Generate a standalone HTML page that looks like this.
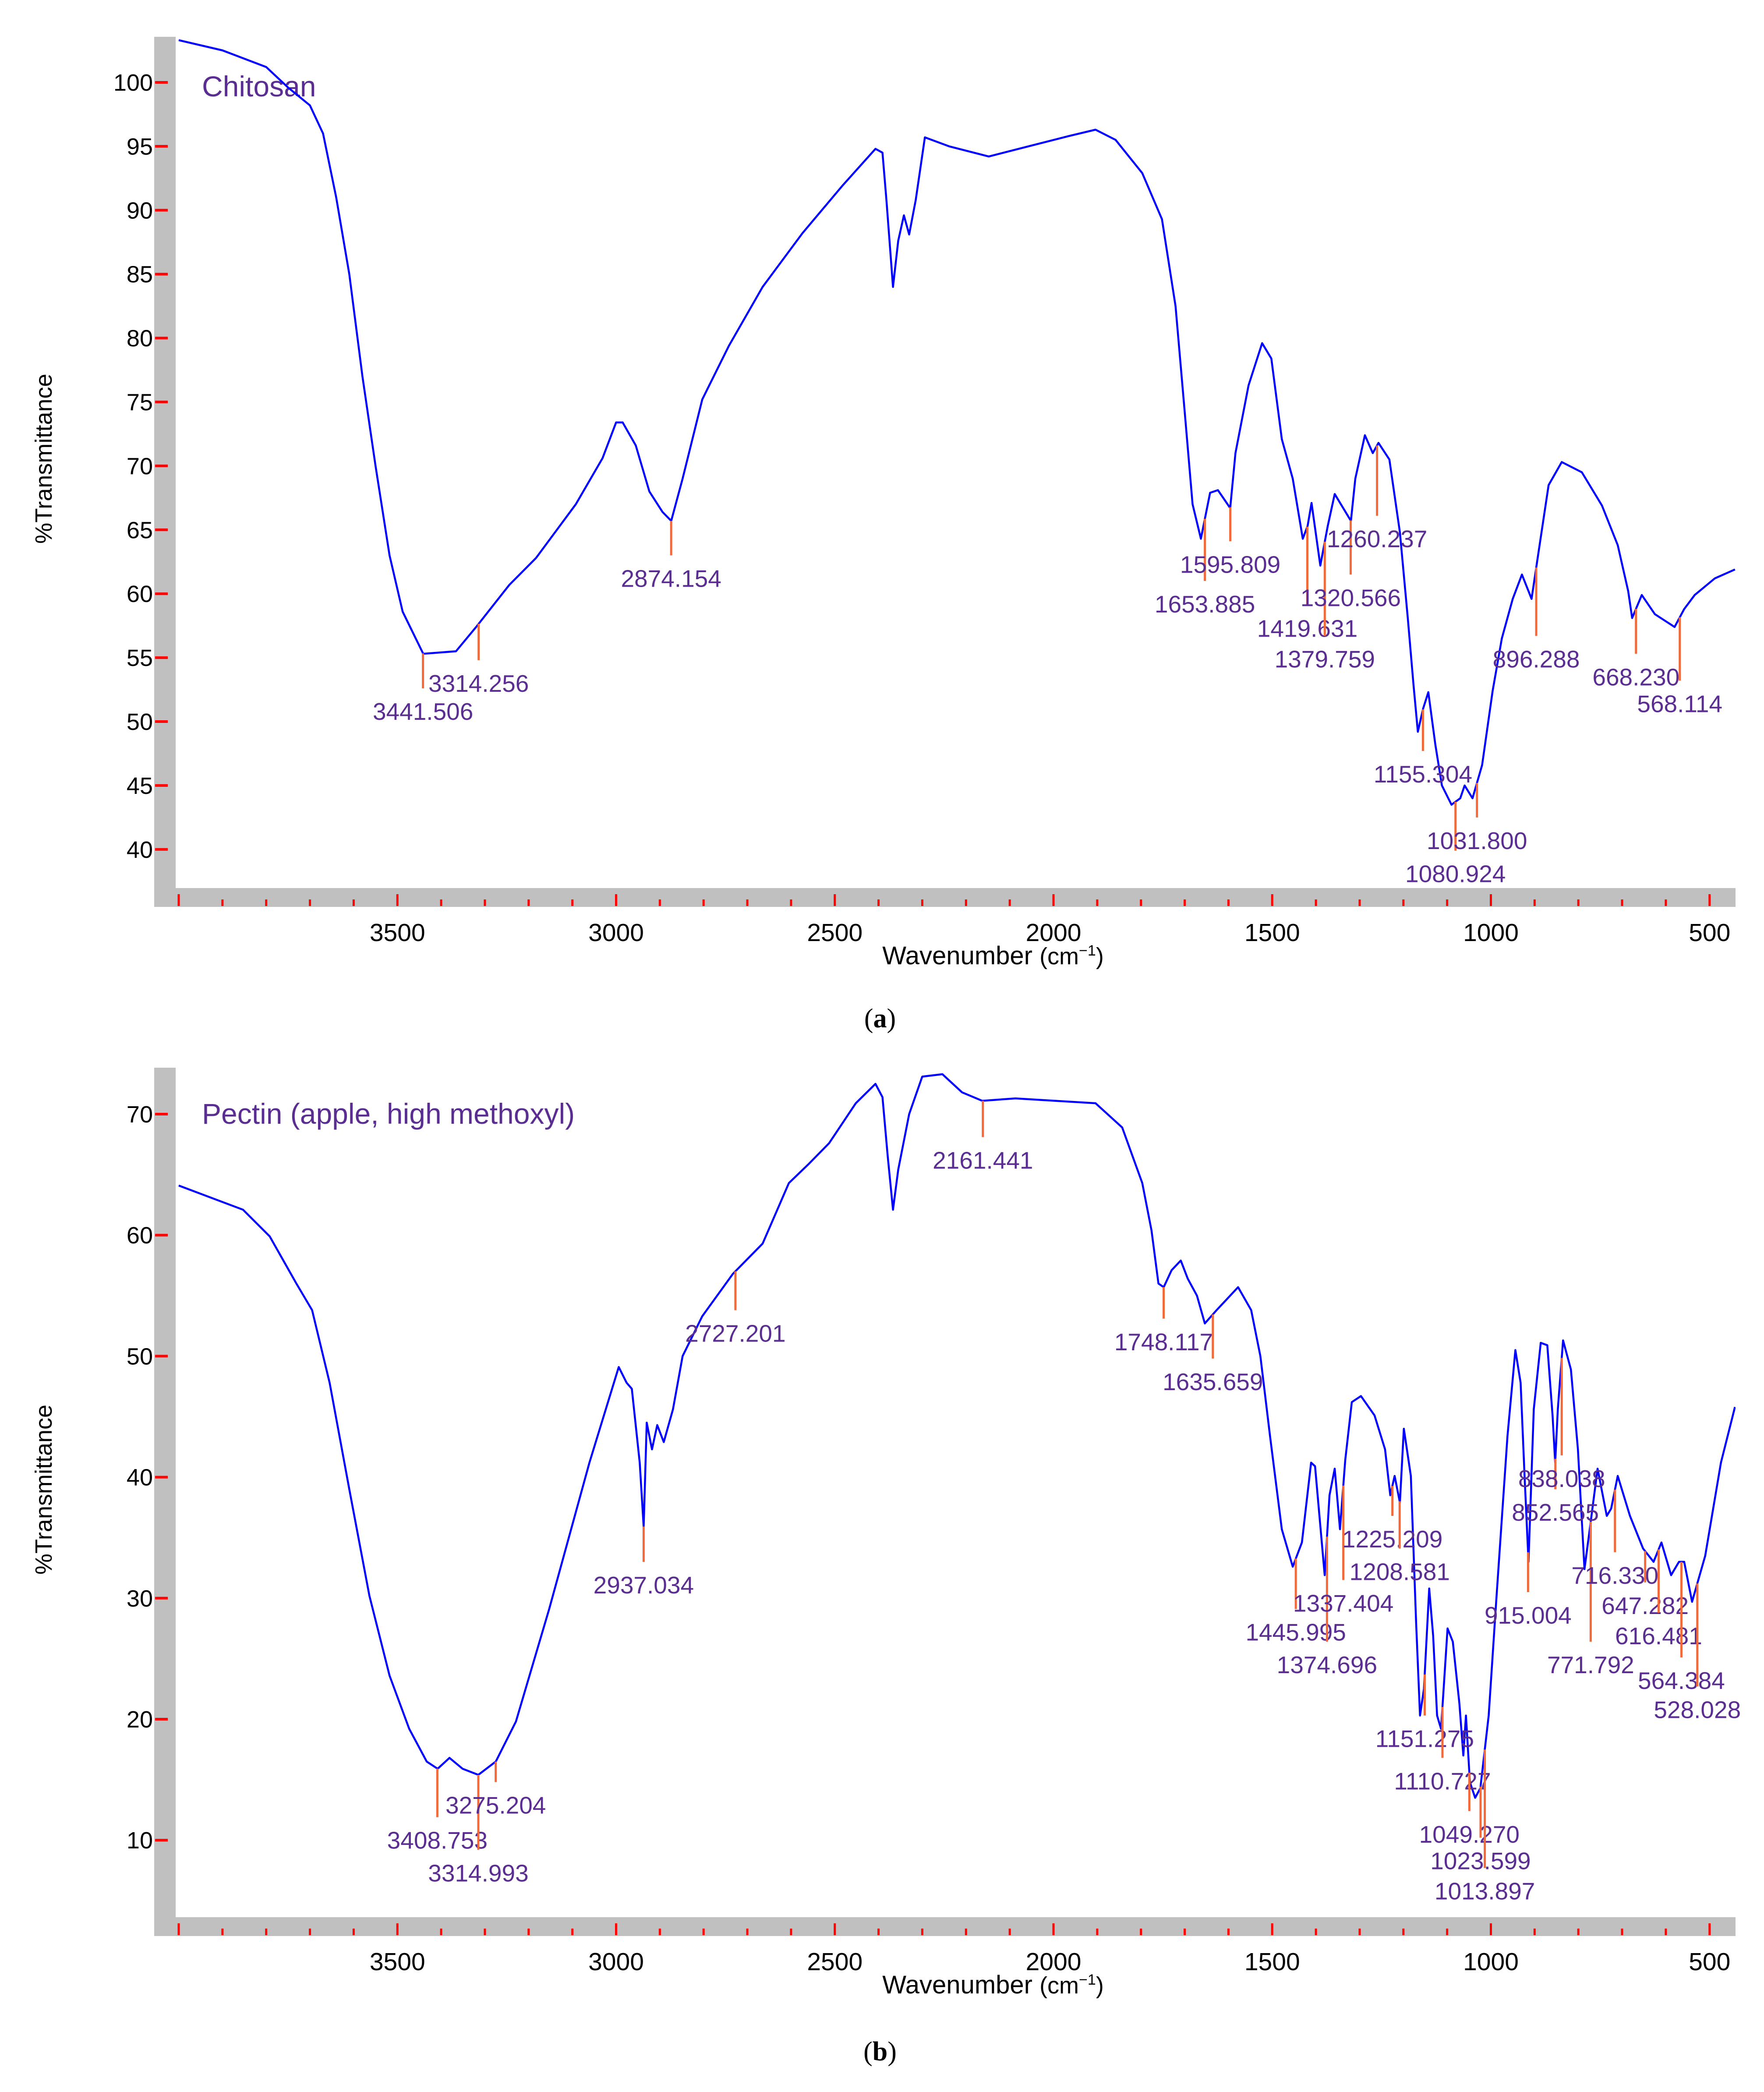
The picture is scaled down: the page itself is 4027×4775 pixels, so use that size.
<!DOCTYPE html>
<html><head><meta charset="utf-8"><style>
html,body{margin:0;padding:0;background:#fff;}
svg{display:block;}
</style></head><body>
<svg id="fig" width="4027" height="4775" viewBox="0 0 4027 4775" xmlns="http://www.w3.org/2000/svg" font-family="Liberation Sans, Arial, sans-serif">
<rect width="4027" height="4775" fill="#fff"/>
<g id="chartA"></g>
<g id="chartB"></g>
<text x="2009" y="2345" font-family="Liberation Serif, serif" font-size="62" text-anchor="middle">(<tspan font-weight="bold">a</tspan>)</text>
<text x="2009" y="4703" font-family="Liberation Serif, serif" font-size="62" text-anchor="middle">(<tspan font-weight="bold">b</tspan>)</text>
</svg>
<script>
// ---- Chart A data (Chitosan) ----
const wnA = [4000,3900,3800,3750,3700,3670,3640,3610,3580,3550,3518,3488,3441,3366,3320,3244,3183,3092,3031,3000,2985,2955,2924,2894,2874,2848,2803,2742,2665,2574,2483,2407,2391,2382,2367,2355,2342,2330,2315,2294,2239,2148,2057,1965,1904,1858,1797,1752,1721,1700,1682,1663,1642,1624,1596,1584,1554,1523,1502,1478,1453,1430,1419,1410,1390,1373,1357,1320,1310,1288,1270,1257,1232,1208,1190,1177,1167,1155,1143,1127,1112,1090,1070,1060,1042,1020,996,975,950,929,907,893,868,838,792,746,710,686,677,655,625,580,558,534,488,442];
const tA = [103.3,102.5,101.2,99.6,98.2,96,91,85,77,70,63,58.6,55.3,55.5,57.4,60.7,62.8,67,70.6,73.4,73.4,71.6,68,66.4,65.7,69,75.2,79.4,84,88.2,91.9,94.8,94.5,90.8,84,87.6,89.6,88.1,90.8,95.7,95,94.2,95,95.8,96.3,95.5,92.9,89.3,82.5,74.2,67,64.3,67.9,68.1,66.7,71,76.3,79.6,78.4,72.1,69,64.3,65.3,67.1,62.2,65.3,67.8,65.7,69,72.4,71,71.8,70.5,64.8,58.1,52.9,49.2,51,52.3,48.2,45,43.5,44,45,44,46.6,52.4,56.5,59.6,61.5,59.6,62.8,68.5,70.3,69.5,66.9,63.8,60.2,58.1,59.9,58.4,57.4,58.8,59.9,61.2,61.9];
const peaksA = [3441.506,3314.256,2874.154,1653.885,1595.809,1419.631,1379.759,1320.566,1260.237,1155.304,1080.924,1031.800,896.288,668.230,568.114];
const peakLabelsA = ["3441.506","3314.256","2874.154","1653.885","1595.809","1419.631","1379.759","1320.566","1260.237","1155.304","1080.924","1031.800","896.288","668.230","568.114"];
const peakBottomA = [52.6,54.8,63.0,61.0,64.1,59.1,56.7,61.5,66.1,47.7,39.9,42.5,56.7,55.3,53.2];
const yTicksA = [40,45,50,55,60,65,70,75,80,85,90,95,100];

// ---- Chart B data (Pectin) ----
const wnB = [4000,3853,3792,3731,3695,3655,3610,3564,3518,3473,3433,3408,3381,3351,3315,3275,3229,3153,3061,2994,2976,2964,2946,2937,2930,2918,2906,2891,2870,2848,2803,2733,2665,2605,2559,2513,2452,2407,2391,2379,2367,2355,2330,2300,2254,2209,2163,2087,1996,1904,1843,1797,1776,1760,1748,1730,1709,1693,1672,1654,1627,1578,1548,1527,1505,1478,1453,1432,1411,1402,1380,1369,1357,1345,1333,1318,1297,1266,1242,1230,1220,1208,1199,1183,1171,1162,1153,1141,1132,1123,1114,1099,1087,1072,1063,1057,1048,1036,1024,1005,987,962,944,932,923,914,902,886,871,859,853,847,835,817,801,786,774,756,735,725,710,682,652,628,610,588,570,558,540,510,474,442];
const tB = [64.1,62.1,59.9,56,53.8,47.8,39,30.2,23.6,19.2,16.5,15.9,16.8,15.9,15.4,16.5,19.8,29.1,41.2,49.1,47.8,47.3,41.2,35.9,44.5,42.3,44.3,42.9,45.6,50,53.3,56.8,59.3,64.3,65.9,67.6,70.9,72.5,71.4,66.5,62.1,65.4,70,73.1,73.3,71.8,71.1,71.3,71.1,70.9,68.9,64.3,60.4,56,55.7,57.1,57.9,56.4,55,52.7,53.8,55.7,53.8,50,43.4,35.7,32.6,34.6,41.2,40.9,31.9,38.5,40.7,35.7,41.4,46.2,46.7,45.1,42.3,38.5,40.1,37.9,44,40.1,28,20.3,22.5,30.8,26.9,20.3,19.2,27.5,26.4,21.3,17,20.3,14.8,13.5,14.3,20.3,30.2,43.4,50.5,47.8,40.1,33,45.6,51.1,50.9,45.1,41.2,45.6,51.3,48.9,42.3,32.4,35.7,40.7,36.8,37.4,40.1,36.8,34.1,33,34.6,31.9,33,33,29.7,33.5,41.2,45.8];
const peaksB = [3408.753,3314.993,3275.204,2937.034,2727.201,2161.441,1748.117,1635.659,1445.995,1374.696,1337.404,1225.209,1208.581,1151.275,1110.727,1049.270,1023.599,1013.897,915.004,852.565,838.038,771.792,716.330,647.282,616.481,564.384,528.028];
const peakLabelsB = ["3408.753","3314.993","3275.204","2937.034","2727.201","2161.441","1748.117","1635.659","1445.995","1374.696","1337.404","1225.209","1208.581","1151.275","1110.727","1049.270","1023.599","1013.897","915.004","852.565","838.038","771.792","716.330","647.282","616.481","564.384","528.028"];
const peakBottomB = [11.9,9.2,14.8,33.0,53.8,68.1,53.1,49.8,29.1,26.4,31.5,36.8,34.1,20.3,16.8,12.4,10.2,7.7,30.5,39.0,41.8,26.4,33.8,31.3,28.8,25.1,22.7];
const yTicksB = [10,20,30,40,50,60,70];

const xTickLabels = [3500,3000,2500,2000,1500,1000,500];

const NS = "http://www.w3.org/2000/svg";
const RIGHT = 3962;
function mk(parent, tag, attrs){const e=document.createElementNS(NS,tag);for(const k in attrs)e.setAttribute(k,attrs[k]);parent.appendChild(e);return e;}
function xs(wn){return 408 + (4000-wn)*0.9985;}
function interp(wns, ts, w){for(let i=0;i<wns.length-1;i++){if(w<=wns[i]&&w>=wns[i+1]){const f=(wns[i]-w)/(wns[i]-wns[i+1]);return ts[i]+f*(ts[i+1]-ts[i]);}}return ts[ts.length-1];}

function drawChart(g, cfg){
  const ys = t => cfg.y0 + (cfg.t0 - t)*cfg.k;
  const fl = mk(g,'rect',{x:352,y:cfg.top,width:49,height:cfg.bot+43-cfg.top,fill:'#c0c0c0'});
  
  
  const fb = mk(g,'rect',{x:352,y:cfg.bot,width:RIGHT-352,height:43,fill:'#c0c0c0'});
  
  
  cfg.yTicks.forEach(v=>{
    const y=ys(v);
    const tk=mk(g,'line',{x1:354,x2:383,y1:y,y2:y,stroke:'#ff0000','stroke-width':6});
    
    
    const tx=mk(g,'text',{x:349,y:y+19,'font-size':54,'text-anchor':'end',fill:'#000'});
    tx.textContent=v;
    
    
  });
  for(let w=4000; w>=500; w-=100){
    const x=xs(w); const major=(w%500===0);
    const tk=mk(g,'line',{x1:x,x2:x,y1:cfg.bot+(major?14:26),y2:cfg.bot+41,stroke:'#ff0000','stroke-width':5});
    
    
  }
  xTickLabels.forEach(w=>{
    const tx=mk(g,'text',{x:xs(w),y:cfg.bot+121,'font-size':57,'text-anchor':'middle',fill:'#000'});
    tx.textContent=w;
    
    
  });
  const xt=mk(g,'text',{x:2267,y:cfg.bot+174,'font-size':58,'text-anchor':'middle',fill:'#000'});
  xt.innerHTML='Wavenumber <tspan font-size="54">(cm</tspan><tspan font-size="34" dy="-20">−1</tspan><tspan font-size="54" dy="20">)</tspan>';
  
  
  const yt=mk(g,'text',{x:0,y:0,'font-size':54,'text-anchor':'middle',fill:'#000',transform:`translate(118,${cfg.ytitle}) rotate(-90)`});
  yt.textContent='%Transmittance';
  
  
  const cp=mk(g,'clipPath',{id:cfg.id+'clip'});
  mk(cp,'rect',{x:401,y:cfg.top,width:RIGHT-401,height:cfg.bot-cfg.top});
  const sl=mk(g,'text',{x:461,y:cfg.titleY,'font-size':66,fill:'#5a2d91'});
  sl.textContent=cfg.title;
  
  
  let d='';
  cfg.wn.forEach((w,i)=>{d+=(i?'L':'M')+xs(w).toFixed(1)+' '+ys(cfg.t[i]).toFixed(1);});
  const p=mk(g,'path',{d:d,fill:'none',stroke:'#0000ff','stroke-width':4.5,'stroke-linejoin':'round','clip-path':`url(#${cfg.id}clip)`});
  
  
  cfg.peaks.forEach((w,i)=>{
    const x=xs(w); const yTop=ys(interp(cfg.wn,cfg.t,w)); const yBot=ys(cfg.pb[i]);
    const l=mk(g,'line',{x1:x,x2:x,y1:yTop,y2:yBot,stroke:'#f06a3c','stroke-width':5});
    
    
    const t=mk(g,'text',{x:x,y:yBot+72,'font-size':55,'text-anchor':'middle',fill:'#5a2d91'});
    t.textContent=cfg.pl[i];
    
    
  });
}
drawChart(document.getElementById('chartA'),{id:'a',top:84,bot:2027,y0:188,t0:100,k:29.18,yTicks:yTicksA,wn:wnA,t:tA,peaks:peaksA,pl:peakLabelsA,pb:peakBottomA,title:'Chitosan',titleY:220,ytitle:1047});
drawChart(document.getElementById('chartB'),{id:'b',top:2437,bot:4376,y0:2543,t0:70,k:27.62,yTicks:yTicksB,wn:wnB,t:tB,peaks:peaksB,pl:peakLabelsB,pb:peakBottomB,title:'Pectin (apple, high methoxyl)',titleY:2565,ytitle:3400});
</script>
</body></html>
